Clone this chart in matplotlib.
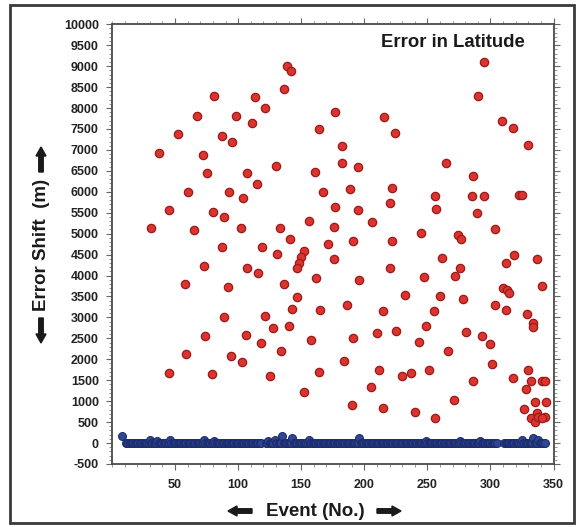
import matplotlib
matplotlib.use("Agg")
import matplotlib.pyplot as plt
from matplotlib.patches import FancyArrow, Rectangle
from matplotlib.transforms import IdentityTransform
from matplotlib.ticker import MultipleLocator

plt.rcParams["axes.unicode_minus"] = False

# ---------------- data ----------------
red_events = [
    81, 67, 98, 52, 87, 95, 37, 72, 75, 60, 93, 45, 80, 89, 31, 65, 87,
    139, 142, 136, 113, 121, 111, 177, 164, 182, 182, 195, 161, 130, 107, 115,
    167, 189, 104, 177, 195, 156, 176, 102, 133, 141, 119, 171, 191,
    295, 290, 216, 224, 265, 286, 222, 256, 285, 295, 220, 257, 289, 206, 245,
    274, 277, 222, 304, 309, 318, 330, 323, 325,
    73, 58, 92, 89, 74, 59, 94, 45, 79,
    131, 152, 150, 148, 147, 176, 107, 116, 162, 196, 136, 147, 186, 143, 165,
    121, 128, 140, 106, 191, 158, 118, 134, 103, 184, 125, 164, 152, 190,
    262, 220, 276, 247, 272, 232, 260, 278, 304, 215, 255, 249, 210, 225, 243,
    281, 293, 300, 266, 301, 212, 230, 237, 251, 205, 286, 271, 215, 240, 256,
    312, 319, 337, 341, 310, 313, 315, 312, 329, 334, 334,
    318, 330, 332, 341, 343, 328, 335, 344, 327, 337, 332, 335, 338, 343, 341,
]
red_values = [
    8276, 7818, 7818, 7374, 7326, 7190, 6920, 6880, 6442, 6003, 6004, 5566, 5526, 5392, 5129, 5088, 4690,
    9004, 8892, 8455, 8271, 8000, 7640, 7906, 7500, 7094, 6688, 6590, 6480, 6624, 6457, 6186,
    5995, 6075, 5852, 5637, 5567, 5303, 5168, 5136, 5136, 4873, 4690, 4754, 4833,
    9107, 8296, 7794, 7397, 6681, 6385, 6091, 5907, 5907, 5907, 5733, 5597, 5501, 5287, 5010,
    4969, 4873, 4833, 5113, 7690, 7520, 7110, 5930, 5930,
    4236, 3792, 3735, 3018, 2565, 2127, 2080, 1682, 1643,
    4508, 4587, 4451, 4293, 4188, 4392, 4188, 4054, 3935, 3895, 3792, 3496, 3291, 3195, 3172,
    3028, 2748, 2796, 2581, 2502, 2469, 2383, 2206, 1944, 1960, 1600, 1700, 1212, 910,
    4427, 4188, 4188, 3975, 3990, 3537, 3513, 3433, 3290, 3155, 3155, 2796, 2637, 2685, 2406,
    2661, 2565, 2366, 2208, 1896, 1754, 1600, 1680, 1754, 1345, 1480, 1027, 827, 731, 604,
    4310, 4500, 4400, 3745, 3700, 3660, 3590, 3172, 3076, 2877, 2781,
    1560, 1752, 1480, 1480, 1480, 1281, 985, 985, 803, 707, 589, 509, 629, 613, 589,
]

blue_events = [8] + list(range(11, 119)) + list(range(122, 306)) + list(range(311, 344))
blue_values = (
    [157]
    + [10] * 19 + [70] + [10] * 5 + [50] + [10] * 9 + [70] + [10] * 26 + [70] + [10] * 7 + [40] + [10] * 37
    + [10] * 2 + [55] + [10] * 4 + [70] + [10] * 5 + [165] + [10] * 7 + [120] + [10] * 12 + [70]
    + [10] * 39 + [125] + [10] * 52 + [55] + [10] * 26 + [55] + [10] * 15 + [60] + [10] * 13
    + [10] * 14 + [70] + [10] * 8 + [120] + [10] * 3 + [70] + [10] * 5
)

x_ticks = [50, 100, 150, 200, 250, 300, 350]
y_ticks = list(range(-500, 10001, 500))

# ---------------- figure ----------------
W, H = 587, 527
fig = plt.figure(figsize=(W / 100, H / 100), dpi=100)
fig.patch.set_facecolor("white")

ax = fig.add_axes([112 / W, (H - 464) / H, (553.5 - 112) / W, (464 - 24.3) / H])

ax.scatter(blue_events, blue_values, s=32, color="#2e4895", edgecolors="#1d2d6e",
           linewidths=0.8, zorder=3)
ax.scatter(red_events, red_values, s=36, color="#db332e", edgecolors="#9a1a1a",
           linewidths=0.9, zorder=4)

ax.set_xlim(0, 350)
ax.set_ylim(-500, 10000)
ax.set_xticks(x_ticks)
ax.set_yticks(y_ticks)
ax.xaxis.set_minor_locator(MultipleLocator(10))
ax.yaxis.set_minor_locator(MultipleLocator(100))

for sp in ax.spines.values():
    sp.set_color("#4a4a4a")
    sp.set_linewidth(1.3)

ax.tick_params(which="major", direction="out", length=4, width=0.8, color="#666666",
               top=True, right=True, labeltop=False, labelright=False)
ax.tick_params(which="minor", direction="out", length=2, width=0.6, color="#888888",
               top=True, right=True)
ax.tick_params(axis="y", which="major", pad=5.5)
ax.tick_params(axis="x", which="major", pad=6.5)

for lab in ax.get_xticklabels() + ax.get_yticklabels():
    lab.set_fontfamily("Liberation Sans")
    lab.set_fontweight("bold")
    lab.set_fontsize(9)
    lab.set_color("#222222")

ax.text(0.772, 0.959, "Error in Latitude", transform=ax.transAxes, ha="center", va="center",
        fontsize=13.3, fontweight="bold", family="Liberation Sans", color="#1a1a1a")

# axis labels
fig.text(315 / W, 1 - 511 / H, "Event (No.)", ha="center", va="center", fontsize=13.5,
         fontweight="bold", family="Liberation Sans", color="#1a1a1a")
fig.text(41 / W, 1 - 245 / H, "Error Shift  (m)", ha="center", va="center", rotation=90,
         fontsize=13.5, fontweight="bold", family="Liberation Sans", color="#1a1a1a")

def arrow(x0, y0, x1, y1):
    a = FancyArrow(x0, H - y0, x1 - x0, -(y1 - y0), width=4.5, head_width=10, head_length=9,
                   length_includes_head=True, color="#1a1a1a", transform=IdentityTransform())
    fig.add_artist(a)

arrow(252, 511, 228, 511)
arrow(377, 511, 401, 511)
arrow(41, 172, 41, 147)
arrow(41, 318, 41, 343)

# outer frame
frame = Rectangle((10, H - 523), 564, 518, fill=False, edgecolor="#3a3a3a", linewidth=2.0,
                  transform=IdentityTransform())
fig.add_artist(frame)

fig.savefig("out.png", dpi=100, facecolor="white")
